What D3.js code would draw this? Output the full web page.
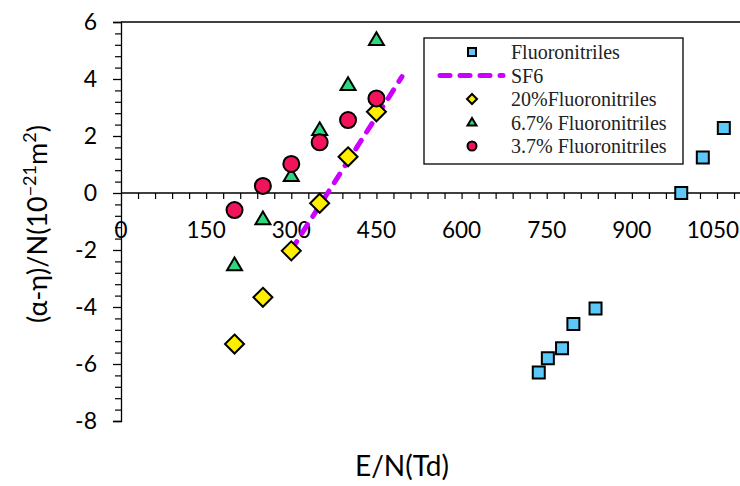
<!DOCTYPE html>
<html><head><meta charset="utf-8">
<script src="https://cdn.jsdelivr.net/npm/d3@7"></script>
<style>body{margin:0;background:#fff}svg{display:block}</style>
</head><body>
<svg id="c" width="740" height="486"></svg>
<script>
// ---- data ----
const fluoroX = [736, 752, 777, 797, 836, 987, 1025, 1062];
const fluoroY = [-6.3, -5.8, -5.45, -4.6, -4.05, 0.0, 1.25, 2.28];
const sf6X = [300, 350, 400, 450, 495];
const sf6Y = [-2.0, -0.44, 1.12, 2.68, 4.08];
const mixX = [200, 250, 300, 350, 400, 450];
const pct20Y = [-5.3, -3.66, -2.03, -0.36, 1.27, 2.85];
const pct67Y = [-2.53, -0.92, 0.6, 2.21, 3.79, 5.37];
const pct37Y = [-0.6, 0.25, 1.02, 1.78, 2.56, 3.32];
const xTicks = [0, 150, 300, 450, 600, 750, 900, 1050];
const yTicks = [-8, -6, -4, -2, 0, 2, 4, 6];
const legendLabels = ["Fluoronitriles", "SF6", "20%Fluoronitriles", "6.7% Fluoronitriles", "3.7% Fluoronitriles"];

const svg = d3.select("#c");
const x = d3.scaleLinear().domain([0, 1050]).range([121, 717]);
const y = d3.scaleLinear().domain([-8, 6]).range([421, 22]);
const sans = "Lato, 'Open Sans', sans-serif";

// plot top border
svg.append("line").attr("x1", x(0)).attr("x2", 740).attr("y1", y(6)).attr("y2", y(6))
  .attr("stroke", "#000").attr("stroke-width", 1.3);

// y axis
const yAx = svg.append("g").attr("transform", `translate(${x(0)},0)`)
  .call(d3.axisLeft(y).tickValues(yTicks).tickSize(8).tickFormat(d => String(d)));
yAx.select(".domain").attr("stroke-width", 1.3);
yAx.selectAll(".tick line").attr("stroke-width", 1.3);
yAx.selectAll("text").attr("font-family", sans).attr("font-size", 23).attr("fill", "#000").attr("x", -24);
const yMinor = d3.range(-8, 6.001, 0.4).filter(v => Math.abs(v / 2 - Math.round(v / 2)) > 0.01);
svg.append("g").attr("transform", `translate(${x(0)},0)`)
  .call(d3.axisLeft(y).tickValues(yMinor).tickSize(6).tickFormat(""))
  .call(g => { g.select(".domain").remove(); g.selectAll("line").attr("stroke-width", 1.2); });

// x axis at y=0
const xMinor = d3.range(30, 1260, 30);
svg.append("g").attr("transform", `translate(0,${y(0)})`)
  .call(d3.axisBottom(x).tickValues(xMinor).tickSize(6).tickFormat(""))
  .call(g => { g.select(".domain").remove(); g.selectAll("line").attr("stroke-width", 1.2); });
svg.append("line").attr("x1", x(0)).attr("x2", 740).attr("y1", y(0)).attr("y2", y(0))
  .attr("stroke", "#000").attr("stroke-width", 1.3);
svg.append("g").selectAll("text").data(xTicks).join("text")
  .attr("x", d => x(d)).attr("y", y(0) + 45)
  .attr("text-anchor", "middle").attr("font-family", sans).attr("font-size", 22.5).attr("fill", "#000")
  .text(d => String(d))
  .each(function (d) {
    const w = this.getComputedTextLength();
    if (x(d) + w / 2 > 739) d3.select(this).attr("x", 739 - w / 2);
  });

// axis titles
svg.append("text").attr("x", 402).attr("y", 476).attr("text-anchor", "middle")
  .attr("font-family", sans).attr("font-size", 28).text("E/N(Td)");
const yt = svg.append("text").attr("transform", "translate(47,224) rotate(-90)")
  .attr("text-anchor", "middle").attr("font-family", sans).attr("font-size", 27);
yt.append("tspan").text("(α-η)/N(10");
yt.append("tspan").attr("baseline-shift", "super").attr("font-size", 18).text("−21");
yt.append("tspan").text("m");
yt.append("tspan").attr("baseline-shift", "super").attr("font-size", 18).text("2");
yt.append("tspan").text(")");

// marker shapes
function square(s) { return `M${-s/2},${-s/2}h${s}v${s}h${-s}Z`; }
function diamond(s) { return `M0,${-s/2}L${s/2},0L0,${s/2}L${-s/2},0Z`; }
function tri(s) { const h = s * 0.85; return `M0,${-h*0.6}L${s/2},${h*0.4}L${-s/2},${h*0.4}Z`; }
const cols = { sq: "#5CC8F8", sf6: "#CC00FF", dia: "#FFEE00", tri: "#2ED67E", cir: "#F2145A" };

// Fluoronitriles squares
svg.append("g").selectAll("path").data(fluoroX).join("path")
  .attr("transform", (d, i) => `translate(${x(d)},${y(fluoroY[i])})`)
  .attr("d", square(12)).attr("fill", cols.sq).attr("stroke", "#000").attr("stroke-width", 2);

// SF6 dashed line
const line = d3.line().x(d => x(d[0])).y(d => y(d[1]));
svg.append("path").attr("d", line(sf6X.map((d, i) => [d, sf6Y[i]])))
  .attr("fill", "none").attr("stroke", cols.sf6).attr("stroke-width", 5)
  .attr("stroke-dasharray", "10,10").attr("stroke-linecap", "round");

// 20% diamonds
svg.append("g").selectAll("path").data(mixX).join("path")
  .attr("transform", (d, i) => `translate(${x(d)},${y(pct20Y[i])})`)
  .attr("d", diamond(19)).attr("fill", cols.dia).attr("stroke", "#000").attr("stroke-width", 2);
// 6.7% triangles
svg.append("g").selectAll("path").data(mixX).join("path")
  .attr("transform", (d, i) => `translate(${x(d)},${y(pct67Y[i])})`)
  .attr("d", tri(15)).attr("fill", cols.tri).attr("stroke", "#000").attr("stroke-width", 2);
// 3.7% circles
svg.append("g").selectAll("circle").data(mixX).join("circle")
  .attr("cx", d => x(d)).attr("cy", (d, i) => y(pct37Y[i])).attr("r", 8)
  .attr("fill", cols.cir).attr("stroke", "#000").attr("stroke-width", 2);

// legend
const lg = svg.append("g");
lg.append("rect").attr("x", 424).attr("y", 38).attr("width", 259).attr("height", 126)
  .attr("fill", "#fff").attr("stroke", "#000").attr("stroke-width", 1.3);
const rowY = d3.scalePoint().domain(legendLabels).range([52, 146]);
const sx = 472;
lg.append("path").attr("transform", `translate(${sx},${rowY(legendLabels[0])})`).attr("d", square(8))
  .attr("fill", cols.sq).attr("stroke", "#000").attr("stroke-width", 2);
lg.append("line").attr("x1", 440).attr("x2", 503).attr("y1", rowY(legendLabels[1])).attr("y2", rowY(legendLabels[1]))
  .attr("stroke", cols.sf6).attr("stroke-width", 5).attr("stroke-dasharray", "10,10").attr("stroke-linecap", "round");
lg.append("path").attr("transform", `translate(${sx},${rowY(legendLabels[2])})`).attr("d", diamond(10))
  .attr("fill", cols.dia).attr("stroke", "#000").attr("stroke-width", 2);
lg.append("path").attr("transform", `translate(${sx},${rowY(legendLabels[3])})`).attr("d", tri(9))
  .attr("fill", cols.tri).attr("stroke", "#000").attr("stroke-width", 2);
lg.append("circle").attr("cx", sx).attr("cy", rowY(legendLabels[4])).attr("r", 4.5)
  .attr("fill", cols.cir).attr("stroke", "#000").attr("stroke-width", 2);
lg.selectAll("text").data(legendLabels).join("text")
  .attr("x", 511).attr("y", d => rowY(d)).attr("dy", "0.35em")
  .attr("font-family", "'Liberation Serif', 'Times New Roman', serif").attr("font-size", 20)
  .attr("fill", "#222").text(d => d);
</script>
</body></html>
